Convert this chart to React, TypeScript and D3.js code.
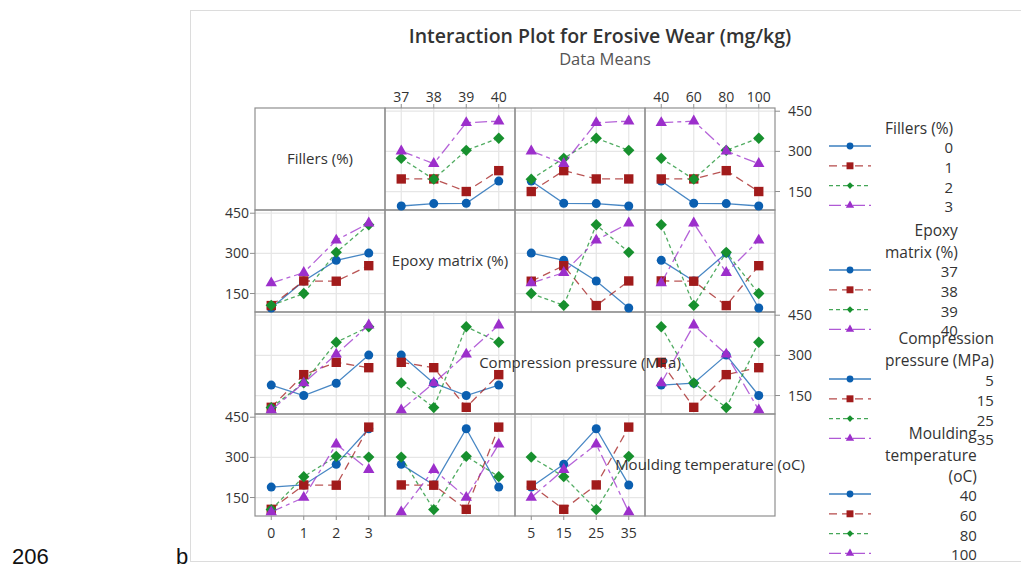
import React, { useRef, useEffect } from 'react';
import * as d3 from 'd3';

// Factor levels
const fillerLevels = [0, 1, 2, 3];
const epoxyLevels = [37, 38, 39, 40];
const compressionLevels = [5, 15, 25, 35];
const mouldingLevels = [40, 60, 80, 100];

// L16 runs (one response per run)
const fillers = [0, 0, 0, 0, 1, 1, 1, 1, 2, 2, 2, 2, 3, 3, 3, 3];
const epoxy = [37, 38, 39, 40, 37, 38, 39, 40, 37, 38, 39, 40, 37, 38, 39, 40];
const compression = [35, 25, 15, 5, 25, 35, 5, 15, 15, 5, 35, 25, 5, 15, 25, 35];
const moulding = [100, 80, 60, 40, 60, 40, 100, 80, 40, 60, 80, 100, 80, 100, 40, 60];
const wear = [96, 105, 106, 189, 197, 197, 150, 228, 274, 196, 304, 349, 301, 254, 407, 413];

const factorNames = ['Fillers (%)', 'Epoxy matrix (%)', 'Compression pressure (MPa)', 'Moulding temperature (oC)'];
const legendTitles = [['Fillers (%)'], ['Epoxy', 'matrix (%)'], ['Compression', 'pressure (MPa)'], ['Moulding', 'temperature', '(oC)']];
const yTicks = [150, 300, 450];

const chartTitle = 'Interaction Plot for Erosive Wear (mg/kg)';
const chartSubtitle = 'Data Means';

const seriesColors = ['#0b5fb0', '#a11b1b', '#17902e', '#9c2fcb'];
const seriesDash = ['none', '8,5', '4,3', '12,4,4,4'];

const FONT = '"Open Sans", "Noto Sans", sans-serif';

const App = () => {
  const ref = useRef<SVGSVGElement>(null);

  useEffect(() => {
    const svg = d3.select(ref.current);
    svg.selectAll('*').remove();

    const factorLevels = [fillerLevels, epoxyLevels, compressionLevels, mouldingLevels];
    const runCols = [fillers, epoxy, compression, moulding];

    const gridLeft = 255, gridTop = 108, cellW = 130, cellH = 102;
    const n = 4;

    // page frame and stray document text
    svg.append('rect')
      .attr('x', 190.5).attr('y', 10.5)
      .attr('width', 900).attr('height', 551)
      .attr('fill', 'none').attr('stroke', '#dcdcdc');

    svg.append('text').attr('x', 12).attr('y', 564)
      .attr('font-family', '"Liberation Sans", sans-serif').attr('font-size', 22)
      .attr('fill', '#111').text('206');
    svg.append('text').attr('x', 176).attr('y', 564)
      .attr('font-family', '"Liberation Sans", sans-serif').attr('font-size', 22)
      .attr('fill', '#111').text('b');

    // titles
    svg.append('text').attr('x', 600).attr('y', 43)
      .attr('text-anchor', 'middle').attr('font-family', FONT)
      .attr('font-size', 19.5).attr('fill', '#333').attr('font-weight', 600)
      .text(chartTitle);
    svg.append('text').attr('x', 605).attr('y', 65)
      .attr('text-anchor', 'middle').attr('font-family', FONT)
      .attr('font-size', 16.5).attr('fill', '#555')
      .text(chartSubtitle);

    const symbolFor = (s: number, big: boolean) => {
      const sizes = big ? [64, 88, 64, 56] : [36, 48, 22, 30];
      const types = [d3.symbolCircle, d3.symbolSquare, d3.symbolSquare, d3.symbolTriangle];
      return d3.symbol().type(types[s]).size(sizes[s])();
    };

    const meanOf = (i: number, a: number, j: number, b: number) => {
      const vals = wear.filter((_, k) => runCols[i][k] === a && runCols[j][k] === b);
      return d3.mean(vals) as number;
    };

    const plot = svg.append('g');

    for (let r = 0; r < n; r++) {
      for (let c = 0; c < n; c++) {
        const x0 = gridLeft + c * cellW;
        const y0 = gridTop + r * cellH;
        const x = d3.scalePoint<number>().domain(factorLevels[c]).range([x0, x0 + cellW]).padding(0.5);
        const y = d3.scaleLinear().domain([81, 462]).range([y0 + cellH, y0]);

        if (r !== c) {
          const g = plot.append('g');
          // grid
          factorLevels[c].forEach(v => {
            g.append('line').attr('x1', x(v)!).attr('x2', x(v)!)
              .attr('y1', y0).attr('y2', y0 + cellH)
              .attr('stroke', '#e6e6e6').attr('stroke-width', 1.2);
          });
          yTicks.forEach(v => {
            g.append('line').attr('x1', x0).attr('x2', x0 + cellW)
              .attr('y1', y(v)).attr('y2', y(v))
              .attr('stroke', '#e6e6e6').attr('stroke-width', 1.2);
          });
        }
      }
    }

    // cell borders
    for (let r = 0; r < n; r++) {
      for (let c = 0; c < n; c++) {
        plot.append('rect')
          .attr('x', gridLeft + c * cellW).attr('y', gridTop + r * cellH)
          .attr('width', cellW).attr('height', cellH)
          .attr('fill', 'none').attr('stroke', '#8f8f8f').attr('stroke-width', 1.2);
      }
    }

    // series
    for (let r = 0; r < n; r++) {
      for (let c = 0; c < n; c++) {
        if (r === c) continue;
        const x0 = gridLeft + c * cellW;
        const y0 = gridTop + r * cellH;
        const x = d3.scalePoint<number>().domain(factorLevels[c]).range([x0, x0 + cellW]).padding(0.5);
        const y = d3.scaleLinear().domain([81, 462]).range([y0 + cellH, y0]);

        factorLevels[r].forEach((a, s) => {
          const pts = factorLevels[c].map(b => ({ b, v: meanOf(r, a, c, b) }));
          const line = d3.line<{ b: number; v: number }>().x(d => x(d.b)!).y(d => y(d.v));
          plot.append('path').datum(pts)
            .attr('d', line)
            .attr('fill', 'none')
            .attr('stroke', seriesColors[s])
            .attr('stroke-width', 1.3)
            .attr('stroke-opacity', 0.75)
            .attr('stroke-dasharray', seriesDash[s]);
          pts.forEach(p => {
            plot.append('path')
              .attr('d', symbolFor(s, true))
              .attr('transform', `translate(${x(p.b)},${y(p.v)})${s === 2 ? ' rotate(45)' : ''}`)
              .attr('fill', seriesColors[s]);
          });
        });
      }
    }

    // axes ticks and labels
    const tickStyle = (t: any) => t.attr('font-family', FONT).attr('font-size', 14).attr('fill', '#333');
    for (let c = 0; c < n; c++) {
      const x0 = gridLeft + c * cellW;
      const x = d3.scalePoint<number>().domain(factorLevels[c]).range([x0, x0 + cellW]).padding(0.5);
      const top = c % 2 === 1;
      factorLevels[c].forEach(v => {
        const yEdge = top ? gridTop : gridTop + n * cellH;
        plot.append('line').attr('x1', x(v)!).attr('x2', x(v)!)
          .attr('y1', yEdge).attr('y2', top ? yEdge - 4 : yEdge + 4)
          .attr('stroke', '#8f8f8f');
        plot.append('text').attr('x', x(v)!).attr('y', top ? gridTop - 6 : gridTop + n * cellH + 22)
          .attr('text-anchor', 'middle').call(tickStyle).text(String(v));
      });
    }
    for (let r = 0; r < n; r++) {
      const y0 = gridTop + r * cellH;
      const y = d3.scaleLinear().domain([81, 462]).range([y0 + cellH, y0]);
      const right = r % 2 === 0;
      yTicks.forEach(v => {
        const xEdge = right ? gridLeft + n * cellW : gridLeft;
        plot.append('line').attr('x1', xEdge).attr('x2', right ? xEdge + 5 : xEdge - 5)
          .attr('y1', y(v)).attr('y2', y(v))
          .attr('stroke', '#8f8f8f');
        plot.append('text').attr('x', right ? xEdge + 13 : xEdge - 6).attr('y', y(v) + 5)
          .attr('text-anchor', right ? 'start' : 'end').call(tickStyle).text(String(v));
      });
    }

    // diagonal labels (drawn on top)
    factorNames.forEach((name, i) => {
      plot.append('text')
        .attr('x', gridLeft + i * cellW + cellW / 2)
        .attr('y', gridTop + i * cellH + cellH / 2 + 5)
        .attr('text-anchor', 'middle')
        .attr('font-family', FONT).attr('font-size', 15).attr('fill', '#333')
        .text(name);
    });

    // legend
    const legendTitleY = [129, 231, 339, 434];
    const legendItemY = [148, 272, 381, 496];
    const legendLeft = 885;
    const legend = svg.append('g');
    legendTitles.forEach((lines, gi) => {
      const tg = legend.append('g');
      const nodes = lines.map((t, li) =>
        tg.append('text').attr('x', 0).attr('y', legendTitleY[gi] + li * 21.7 + 5)
          .attr('text-anchor', 'end')
          .attr('font-family', FONT).attr('font-size', 15.5).attr('fill', '#333')
          .text(t));
      const widest = d3.max(nodes, nd => (nd.node() as SVGTextElement).getComputedTextLength()) || 0;
      const right = legendLeft + widest;
      nodes.forEach(nd => nd.attr('x', right));
      factorLevels[gi].forEach((lv, s) => {
        const cy = legendItemY[gi] + s * 19.8;
        legend.append('line').attr('x1', 829).attr('x2', 871)
          .attr('y1', cy - 2).attr('y2', cy - 2)
          .attr('stroke', seriesColors[s]).attr('stroke-width', 1.3)
          .attr('stroke-opacity', 0.8)
          .attr('stroke-dasharray', seriesDash[s]);
        legend.append('path').attr('d', symbolFor(s, false))
          .attr('transform', `translate(850,${cy - 2})${s === 2 ? ' rotate(45)' : ''}`)
          .attr('fill', seriesColors[s]);
        legend.append('text').attr('x', right).attr('y', cy + 5)
          .attr('text-anchor', 'end')
          .attr('font-family', FONT).attr('font-size', 15).attr('fill', '#333')
          .text(String(lv));
      });
    });
  }, []);

  return (
    <svg ref={ref} width={1021} height={571}
      style={{ position: 'absolute', left: 0, top: 0, background: '#fff' }} />
  );
};

export default App;
